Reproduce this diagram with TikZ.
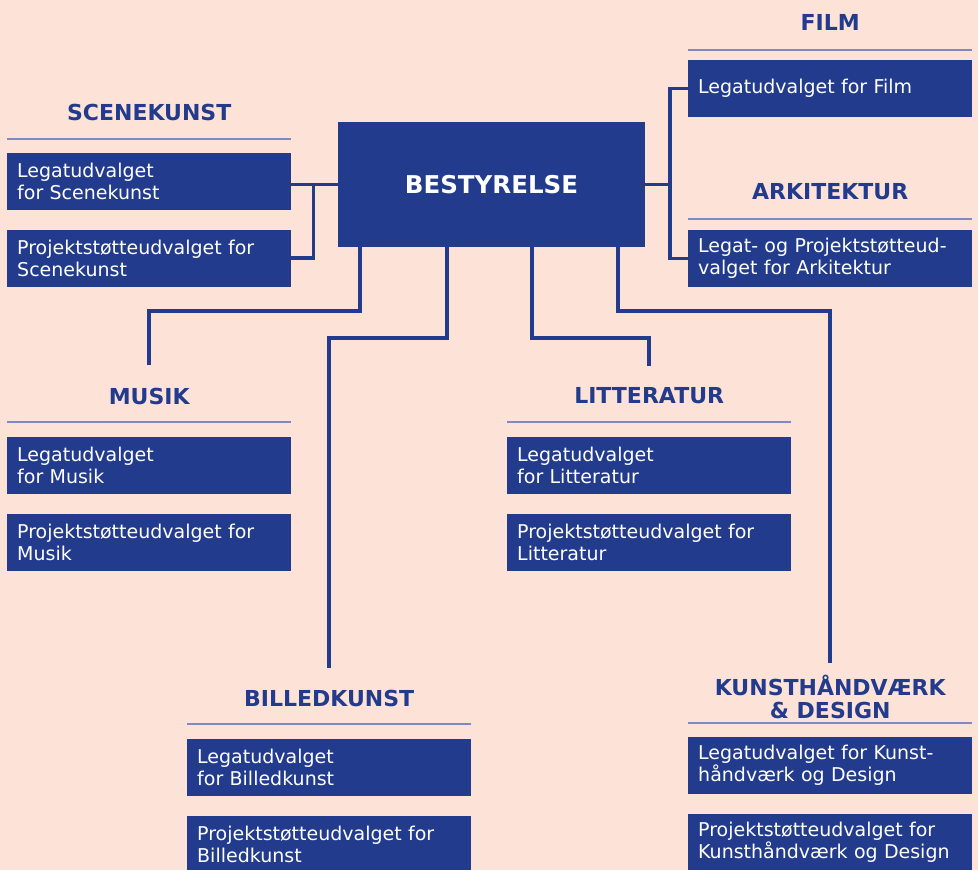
\documentclass[tikz,border=0pt]{standalone}
\usepackage{fontspec}
\setmainfont{DejaVu Sans}
\usetikzlibrary{positioning}
\definecolor{kfblaa}{HTML}{223B8C}
\definecolor{kfbund}{HTML}{FCE2D7}
\definecolor{kfstreg}{HTML}{7D89BF}

\begin{document}
\begin{tikzpicture}[x=1pt, y=-1pt,
        udvalg/.style={rectangle, fill=kfblaa, text=white, anchor=north west,
            minimum width=284pt, minimum height=57pt, text width=264pt,
            inner xsep=10pt, inner ysep=0pt, align=left,
            font=\fontsize{19}{22}\selectfont},
        overskrift/.style={text=kfblaa, align=center, inner sep=2pt,
            font=\bfseries\fontsize{22}{23}\selectfont},
        streg/.style={draw=kfstreg, line width=1.5pt},
        forbind/.style={draw=kfblaa, line width=3.5pt}]
                \path[use as bounding box, fill=kfbund] (0,0) rectangle (978,870);

                \node[rectangle, fill=kfblaa, text=white, minimum width=307pt, minimum height=125pt,
                    font=\bfseries\fontsize{24.5}{26}\selectfont] (best) at (491.5,184.5) {BESTYRELSE};

                \node[udvalg]                    (ske1) at (7,153) {Legatudvalget\\for Scenekunst};
                \node[udvalg, below=19pt of ske1] (ske2)          {Projektstøtteudvalget for\\Scenekunst};
                \draw[streg] ([yshift=14pt]ske1.north west) -- ([yshift=14pt]ske1.north east);
                \node[overskrift] (skeT) at ([yshift=41pt]ske1.north) {SCENEKUNST};

                \node[udvalg]                    (mus1) at (7,437) {Legatudvalget\\for Musik};
                \node[udvalg, below=19pt of mus1] (mus2)          {Projektstøtteudvalget for\\Musik};
                \draw[streg] ([yshift=15pt]mus1.north west) -- ([yshift=15pt]mus1.north east);
                \node[overskrift] (musT) at ([yshift=41pt]mus1.north) {MUSIK};

                \node[udvalg]                    (lit1) at (507,437) {Legatudvalget\\for Litteratur};
                \node[udvalg, below=19pt of lit1] (lit2)            {Projektstøtteudvalget for\\Litteratur};
                \draw[streg] ([yshift=15pt]lit1.north west) -- ([yshift=15pt]lit1.north east);
                \node[overskrift] (litT) at ([yshift=41pt]lit1.north) {LITTERATUR};

                \node[udvalg]                    (bil1) at (187,739) {Legatudvalget\\for Billedkunst};
                \node[udvalg, below=19pt of bil1] (bil2)            {Projektstøtteudvalget for\\Billedkunst};
                \draw[streg] ([yshift=15pt]bil1.north west) -- ([yshift=15pt]bil1.north east);
                \node[overskrift] (bilT) at ([yshift=41pt]bil1.north) {BILLEDKUNST};

                \node[udvalg]                    (khd1) at (688,737) {Legatudvalget for Kunst-\\håndværk og Design};
                \node[udvalg, below=19pt of khd1] (khd2)            {Projektstøtteudvalget for\\Kunsthåndværk og Design};
                \draw[streg] ([yshift=14pt]khd1.north west) -- ([yshift=14pt]khd1.north east);
                \node[overskrift] (khdT) at ([yshift=40pt]khd1.north) {KUNSTHÅNDVÆRK\\\& DESIGN};

                \node[udvalg] (film1) at (688,60) {Legatudvalget for Film};
                \draw[streg] ([yshift=10pt]film1.north west) -- ([yshift=10pt]film1.north east);
                \node[overskrift] (filmT) at ([yshift=38pt]film1.north) {FILM};

                \node[udvalg] (ark1) at (688,230) {Legat- og Projektstøtteud-\\valget for Arkitektur};
                \draw[streg] ([yshift=11pt]ark1.north west) -- ([yshift=11pt]ark1.north east);
                \node[overskrift] (arkT) at ([yshift=38pt]ark1.north) {ARKITEKTUR};

                \draw[forbind] (best.west) -- (ske1.east |- best.west);
                \draw[forbind] ([xshift=22pt]ske1.east |- best.west) |- (ske2.east);

                \draw[forbind] (best.east) -- ([xshift=-18pt]film1.west |- best.east);
                \draw[forbind] (film1.west) -- ++(-18pt,0) |- (ark1.west);

                \draw[forbind] ([xshift=22pt]best.south west) -- ++(0,64) -| ([yshift=72pt]mus1.north);
                \draw[forbind] ([xshift=109pt]best.south west) -- ++(0,91) -| ([yshift=71pt]bil1.north);
                \draw[forbind] ([xshift=194pt]best.south west) -- ++(0,91) -| ([yshift=71pt]lit1.north);
                \draw[forbind] ([xshift=280pt]best.south west) -- ++(0,64) -| ([yshift=74pt]khd1.north);
\end{tikzpicture}
\end{document}
